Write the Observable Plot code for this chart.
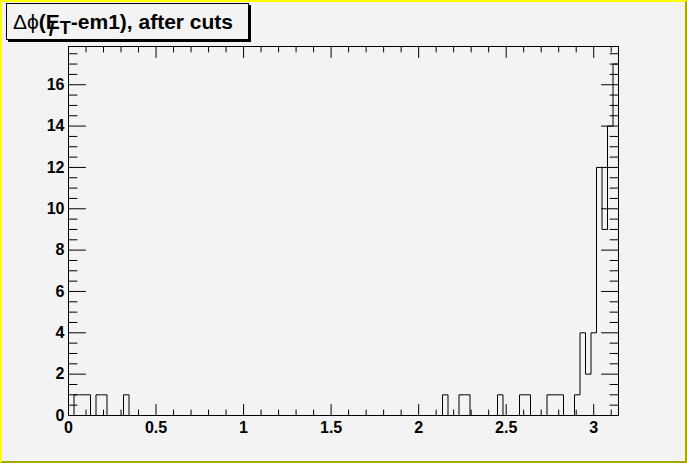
<!DOCTYPE html>
<html><head><meta charset="utf-8">
<script src="https://cdn.jsdelivr.net/npm/d3@7"></script>
<script src="https://cdn.jsdelivr.net/npm/@observablehq/plot@0.6"></script>
<style>
body{margin:0;background:#f3f3f3;}
#wrap{position:relative;width:687px;height:463px;overflow:hidden;font-family:"Liberation Sans",Arial,sans-serif;}
#border{position:absolute;left:0;top:0;width:687px;height:463px;box-sizing:border-box;border-style:solid;border-width:2px;border-color:#ffff00 #a8a800 #a8a800 #ffff00;pointer-events:none;}
#title{position:absolute;left:6px;top:3px;width:235px;height:35px;border:1px solid #000;box-shadow:2px 2px 0 #000;background:#f3f3f3;font-weight:bold;font-size:21px;line-height:35px;white-space:nowrap;padding-left:6px;box-sizing:content-box;}
#title .sym{font-weight:normal;}
#title .sl{position:relative;}
#title .slash{position:absolute;left:3px;top:1px;font-weight:bold;}
#title .sub{font-size:18px;position:relative;top:5px;}
</style></head>
<body>
<div id="wrap">
<div id="chart"></div>
<div id="title"><span class="sym">Δϕ</span>(<span class="sl">E<span class="slash">/</span></span><span class="sub">T</span>-em1), after cuts</div>
<div id="border"></div>
</div>
<script>
// Histogram: 100 bins from 0 to pi
const nBins = 100;
const xMin = 0, xMax = Math.PI;
const counts = [
  0,1,1,1,0,1,1,0,0,0,
  1,0,0,0,0,0,0,0,0,0,
  0,0,0,0,0,0,0,0,0,0,
  0,0,0,0,0,0,0,0,0,0,
  0,0,0,0,0,0,0,0,0,0,
  0,0,0,0,0,0,0,0,0,0,
  0,0,0,0,0,0,0,0,1,0,
  0,1,1,0,0,0,0,0,1,0,
  0,0,1,1,0,0,0,1,1,1,
  0,0,1,4,2,4,12,9,14,17
];
const yMax = 17.85;
const xTickLabels = [0, 0.5, 1, 1.5, 2, 2.5, 3];
const yTickLabels = [0, 2, 4, 6, 8, 10, 12, 14, 16];

const bw = (xMax - xMin) / nBins;
const steps = counts.map((c, i) => ({x: xMin + i * bw, y: c}));
steps.push({x: xMax, y: counts[nBins - 1]});

const xMinor = d3.range(1, 32).map(k => k / 10).filter(v => Math.abs(v * 2 - Math.round(v * 2)) > 1e-9);
const yMinor = d3.range(1, 36).map(k => k / 2).filter(v => v % 2 !== 0);

const tick = {draw(ctx, l) { ctx.moveTo(0, 0); ctx.lineTo(0, -l); }};
const tk = (data, o) => Plot.vector(data, {anchor: "start", shape: tick, stroke: "black", strokeWidth: 1, ...o});

const plot = Plot.plot({
  width: 687, height: 463,
  marginLeft: 68, marginRight: 69, marginTop: 46, marginBottom: 48,
  style: {background: "#f3f3f3", fontFamily: "Liberation Sans, Arial, sans-serif", color: "black"},
  x: {domain: [xMin, xMax]},
  y: {domain: [0, yMax]},
  marks: [
    Plot.frame({stroke: "black", strokeWidth: 1}),
    Plot.lineY(steps, {x: "x", y: "y", curve: "step-after", stroke: "black", strokeWidth: 1}),
    // bottom ticks
    tk(xTickLabels, {x: d => d, y: 0, length: 11, rotate: 0}),
    tk(xMinor, {x: d => d, y: 0, length: 5.5, rotate: 0}),
    // top ticks
    tk(xTickLabels, {x: d => d, y: yMax, length: 11, rotate: 180}),
    tk(xMinor, {x: d => d, y: yMax, length: 5.5, rotate: 180}),
    // left ticks
    tk(yTickLabels, {x: xMin, y: d => d, length: 17, rotate: 90}),
    tk(yMinor, {x: xMin, y: d => d, length: 8.5, rotate: 90}),
    // right ticks
    tk(yTickLabels, {x: xMax, y: d => d, length: 17, rotate: -90}),
    tk(yMinor, {x: xMax, y: d => d, length: 8.5, rotate: -90}),
    Plot.axisX(xTickLabels, {tickSize: 0, tickPadding: 6, fontSize: 16, fontWeight: "bold", label: null, tickFormat: d => String(d)}),
    Plot.axisY(yTickLabels, {tickSize: 0, tickPadding: 4, fontSize: 16, fontWeight: "bold", label: null, tickFormat: d => String(d)})
  ]
});
document.getElementById("chart").appendChild(plot);
</script>
</body></html>
